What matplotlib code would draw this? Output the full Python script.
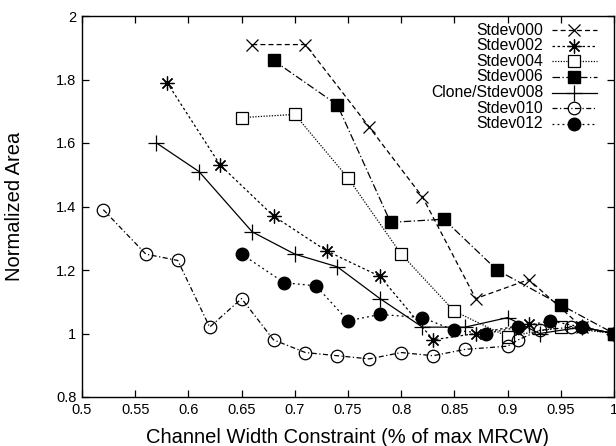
import matplotlib
matplotlib.use("Agg")
import matplotlib.pyplot as plt

plt.rcParams['font.family'] = ['Liberation Sans', 'DejaVu Sans']

# data
x000 = [0.66, 0.71, 0.77, 0.82, 0.87, 0.92, 0.97, 1.00]
y000 = [1.91, 1.91, 1.65, 1.43, 1.11, 1.17, 1.02, 1.00]

x002 = [0.58, 0.63, 0.68, 0.73, 0.78, 0.83, 0.87, 0.92, 0.97, 1.00]
y002 = [1.79, 1.53, 1.37, 1.26, 1.18, 0.98, 1.00, 1.03, 1.02, 1.00]

x004 = [0.65, 0.70, 0.75, 0.80, 0.85, 0.90, 0.95, 1.00]
y004 = [1.68, 1.69, 1.49, 1.25, 1.07, 0.99, 1.02, 1.00]

x006 = [0.68, 0.74, 0.79, 0.84, 0.89, 0.95, 1.00]
y006 = [1.86, 1.72, 1.35, 1.36, 1.20, 1.09, 1.00]

x008 = [0.57, 0.61, 0.66, 0.70, 0.74, 0.78, 0.82, 0.86, 0.90, 0.93, 0.97, 1.00]
y008 = [1.60, 1.51, 1.32, 1.25, 1.21, 1.11, 1.02, 1.02, 1.05, 1.00, 1.02, 1.00]

x010 = [0.52, 0.56, 0.59, 0.62, 0.65, 0.68, 0.71, 0.74, 0.77, 0.80, 0.83,
        0.86, 0.90, 0.91, 0.93, 0.96, 1.00]
y010 = [1.39, 1.25, 1.23, 1.02, 1.11, 0.98, 0.94, 0.93, 0.92, 0.94, 0.93,
        0.95, 0.96, 0.98, 1.01, 1.02, 1.00]

x012 = [0.65, 0.69, 0.72, 0.75, 0.78, 0.82, 0.85, 0.88, 0.91, 0.94, 0.97, 1.00]
y012 = [1.25, 1.16, 1.15, 1.04, 1.06, 1.05, 1.01, 1.00, 1.02, 1.04, 1.02, 1.00]

labels = ["Stdev000", "Stdev002", "Stdev004", "Stdev006",
          "Clone/Stdev008", "Stdev010", "Stdev012"]
xticks = [0.5, 0.55, 0.6, 0.65, 0.7, 0.75, 0.8, 0.85, 0.9, 0.95, 1]
yticks = [0.8, 1, 1.2, 1.4, 1.6, 1.8, 2]

lw = 0.9
styles = [
    dict(ls=(0, (4, 2.5)), marker='x', ms=9, mew=0.9),
    dict(ls=(0, (2, 2)), marker=(8, 2, 0), ms=10, mew=0.9),
    dict(ls=(0, (1, 1.2)), marker='s', ms=8, mfc='white', mew=0.9),
    dict(ls=(0, (6, 2, 1, 2)), marker='s', ms=9),
    dict(ls='-', marker='+', ms=11, mew=0.9),
    dict(ls=(0, (4, 2, 1, 2)), marker='o', ms=9, mfc='none', mew=0.9),
    dict(ls=(0, (1.5, 2.5)), marker='o', ms=9),
]
series = [(x000, y000), (x002, y002), (x004, y004), (x006, y006),
          (x008, y008), (x010, y010), (x012, y012)]

fig = plt.figure(figsize=(6.16, 4.46), dpi=100)
ax = fig.add_axes([82 / 616, 49 / 446, 532 / 616, 381 / 446])

for (xs, ys), st in zip(series, styles):
    ax.plot(xs, ys, color='k', lw=lw, **st)

ax.set_xlim(0.5, 1.0)
ax.set_ylim(0.8, 2.0)
ax.set_xticks(xticks)
ax.set_xticklabels([f"{t:g}" for t in xticks])
ax.set_yticks(yticks)
ax.set_yticklabels([f"{t:g}" for t in yticks])
ax.tick_params(direction='in', length=5, width=0.9, top=True, right=True, labelsize=10.5, pad=4)
for s in ax.spines.values():
    s.set_linewidth(1.0)

ax.set_xlabel("Channel Width Constraint (% of max MRCW)", fontsize=14.5, labelpad=8)
ax.set_ylabel("Normalized Area", fontsize=14.5, labelpad=23)

# gnuplot-style key: right-aligned text, sample to the right
tx, lx0, lx1 = 0.8665, 0.883, 0.968
ytop, dy = 0.963, 0.041
for i, (lab, st) in enumerate(zip(labels, styles)):
    yy = ytop - i * dy
    ax.text(tx, yy, lab, transform=ax.transAxes, ha='right', va='center', fontsize=11.3)
    line_st = {k: v for k, v in st.items() if k == 'ls'}
    ax.plot([lx0, lx1], [yy, yy], transform=ax.transAxes, color='k', lw=lw, clip_on=False, **line_st)
    mk_st = {k: v for k, v in st.items() if k != 'ls'}
    ax.plot([(lx0 + lx1) / 2], [yy], transform=ax.transAxes, color='k', ls='none', clip_on=False, **mk_st)

fig.savefig("out.png", dpi=100)
